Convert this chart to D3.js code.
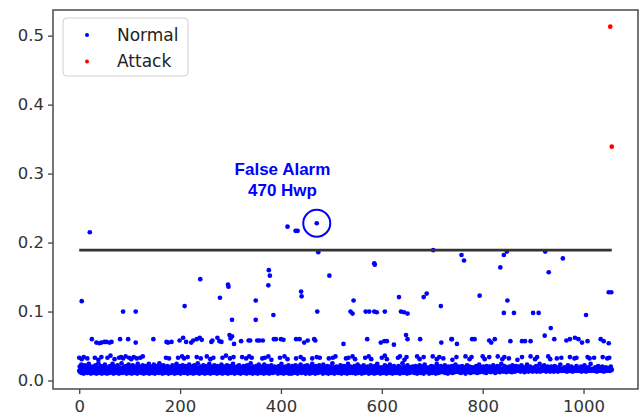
<!DOCTYPE html>
<html><head><meta charset="utf-8">
<script src="https://cdn.jsdelivr.net/npm/d3@7"></script>
<style>
html,body{margin:0;padding:0;background:#fff;}
svg{display:block;}
</style></head>
<body><svg id="chart" width="644" height="419"></svg>
<script>
// ---------------- data (values in thousandths, x = sample index) ----------------
const xTicks = [0, 200, 400, 600, 800, 1000];
const yTicks = [0.0, 0.1, 0.2, 0.3, 0.4, 0.5];
const seriesNames = ["Normal", "Attack"];
const threshold = 189;          // thousandths
const thresholdRange = [0, 1056];
const annotationLines = ["False Alarm", "470 Hwp"];
const falseAlarm = [471, 228];

// dense lower band, one value per sample index 0..1056
const normalBand = [
14,20,12,17,23,11,15,19,13,10,18,22,14,12,16,21,11,17,13,24,15,12,19,10,16,20,13,18,11,14,
17,12,22,15,10,19,13,16,25,11,14,18,12,21,15,10,17,13,20,14,11,23,16,12,18,10,15,19,13,17,
11,21,14,16,12,19,24,13,10,17,15,20,12,14,18,11,22,13,16,10,19,14,12,17,25,15,11,18,13,20,
16,12,14,21,10,18,13,15,23,11,17,12,19,14,10,16,22,13,15,11,20,17,12,14,18,10,24,13,16,19,
12,15,20,11,17,13,22,14,10,18,16,12,21,15,11,19,13,17,24,10,14,18,12,16,20,11,15,13,23,17,
10,18,13,16,21,12,14,19,11,25,15,13,17,20,12,10,16,22,14,18,11,13,19,15,12,21,17,10,14,16,
19,13,11,17,15,22,12,18,14,10,20,16,13,24,11,15,18,12,17,21,14,10,16,19,13,22,12,15,11,18,
15,21,12,14,19,10,17,13,23,16,11,18,14,12,20,15,10,17,22,13,16,11,19,14,12,25,15,18,10,13,
20,14,11,16,18,12,22,15,13,10,17,21,12,14,19,11,16,13,24,15,10,18,12,20,14,17,11,15,22,13,
12,17,15,10,21,13,18,14,11,19,16,12,23,15,10,17,14,20,12,13,18,11,16,22,15,10,19,13,14,17,
21,11,16,13,18,24,12,15,10,19,14,17,12,20,13,11,16,22,15,18,10,14,12,19,17,13,21,11,15,16,
13,18,10,22,15,12,17,14,19,11,25,16,13,15,10,20,12,18,14,16,11,21,13,17,10,15,23,12,19,14,
16,11,20,13,15,18,10,23,14,12,17,19,11,15,21,13,16,10,18,14,12,22,15,17,11,19,13,16,20,12,
14,19,12,17,10,15,21,13,18,11,16,24,12,14,19,10,17,15,13,20,11,18,14,16,12,22,10,15,17,13,
18,10,15,21,13,16,11,19,14,22,12,17,15,10,20,13,16,12,18,23,14,11,17,15,19,12,13,21,16,10,
11,16,22,14,12,18,15,10,20,13,17,11,24,15,14,19,12,16,10,21,13,18,15,11,17,14,22,12,16,19,
15,13,18,10,23,14,16,12,19,11,17,15,21,13,10,18,14,16,20,12,11,17,25,13,15,19,10,14,18,12,
20,12,14,17,11,16,19,13,22,15,10,18,12,16,14,21,11,15,17,13,19,10,16,24,12,14,18,11,20,15,
13,17,11,19,15,12,21,14,10,16,18,13,23,11,15,17,12,20,14,16,10,19,13,15,22,11,17,14,12,18,
16,14,20,12,10,18,15,13,22,11,17,19,14,12,16,10,21,15,13,18,11,24,14,16,12,19,15,10,17,13,
12,19,15,11,17,14,22,13,16,10,20,15,12,18,14,11,23,16,13,17,15,10,19,12,21,14,16,11,18,15,
17,11,14,21,13,16,10,19,15,12,18,25,14,11,16,20,13,15,12,17,10,22,14,18,13,11,16,19,15,12,
14,20,16,12,18,11,15,21,13,17,10,14,19,16,12,22,15,11,18,13,20,14,16,10,17,23,12,15,19,13,
15,12,18,14,10,19,16,13,21,15,11,17,14,20,12,16,18,10,15,24,13,17,11,19,14,16,12,21,15,13,
19,15,12,17,14,22,11,16,13,18,15,10,20,14,17,12,19,15,13,21,11,16,14,18,12,15,23,13,17,14,
13,16,20,12,15,18,14,11,17,21,13,16,15,19,12,14,10,18,16,22,13,15,17,12,20,14,11,16,19,15,
16,14,12,19,15,17,13,21,16,11,18,14,15,23,12,16,19,13,15,17,14,20,12,16,18,13,15,11,21,16,
14,18,15,13,20,16,12,17,15,19,14,22,13,16,15,11,18,14,17,21,15,13,16,19,12,15,17,24,14,16,
15,13,17,21,14,16,15,12,19,16,14,18,15,20,13,16,15,17,12,22,15,14,18,16,13,15,21,14,17,15,
16,20,14,15,17,13,16,22,15,14,18,15,16,12,19,15,17,14,23,16,15,13,18,15,20,14,16,15,17,13,
15,17,19,14,16,15,21,13,15,18,16,14,15,24,13,16,15,19,14,17,15,16,22,14,15,18,13,16,15,20,
14,16,15,18,13,15,20,16,14,15,17,13,16,21,15,14,16,18,15,13,19,16,15,14,23,15,16,17,14,15,
16,15,19,14,15,17,15,13,16,22,15,14,18,15,16,14,20,15,13,16,15,18,14,15,17,15,21,14,16,15,
15,18,14,16,15,20,13,15,16,17,15,14,22,16,15,13,18,15,16,14,19,15,16,15,24,14,15,17,16,15,
16,14,15,19,15,16,13,17,15,21,14,15,16,18,15,14,15,20,16,15,13,17,15,16,19,14,15,16,18,15,
15,17,14,16,20,15,16
];

// second row around 0.033  [index, thousandths]
const normalRow2 = [
[0,33],[5,31],[9,34],[16,32],[31,33],[38,30],[44,34],[56,33],[62,36],[70,31],
[79,33],[83,34],[87,32],[92,35],[99,33],[103,31],[108,34],[114,32],[121,33],[126,35],
[172,33],[178,32],[196,33],[204,35],[208,32],[215,34],[233,34],[241,32],[253,35],[260,31],
[266,33],[284,33],[291,36],[299,32],[306,34],[323,34],[331,32],[337,35],[342,33],[363,32],
[368,33],[375,35],[381,30],[398,33],[407,35],[413,31],[430,32],[439,34],[445,31],[462,32],
[471,34],[477,33],[495,32],[503,33],[508,35],[529,32],[534,33],[542,35],[547,31],[567,33],
[574,35],[579,31],[600,33],[606,36],[610,31],[632,33],[636,35],[645,30],[649,34],[670,35],
[675,31],[683,34],[701,35],[709,31],[714,34],[722,32],[740,30],[748,34],[766,35],[774,31],
[778,34],[800,35],[804,31],[813,34],[830,35],[839,31],[843,34],[852,32],[869,30],[878,34],
[895,35],[904,31],[908,34],[930,35],[934,31],[947,32],[956,33],[973,34],[982,32],[986,33],
[1008,34],[1012,32],[1021,33],[1038,34],[1047,32],[1051,33]
];

// third row around 0.055-0.065  [index, thousandths]
const normalRow3 = [
[25,60],[34,55],[40,54],[44,55],[50,56],[54,56],[60,55],[64,56],[81,60],[97,60],[112,55],[147,60],
[173,56],[176,55],[183,56],[199,58],[206,62],[212,56],[222,55],[226,58],[233,60],[239,62],[243,59],
[262,56],[264,58],[274,62],[278,57],[282,56],[298,66],[300,61],[303,64],[307,53],[321,57],[336,58],
[339,58],[353,58],[357,58],[364,58],[386,60],[390,60],[400,60],[405,59],[430,60],[437,60],[446,55],
[453,58],[466,60],[468,58],[524,53],[571,60],[598,55],[605,57],[610,57],[624,52],[648,66],[651,60],
[676,60],[718,55],[738,60],[739,60],[749,53],[779,60],[784,60],[813,58],[817,55],[824,60],[855,57],
[878,57],[884,57],[895,57],[942,60],[966,58],[973,60],[983,62],[990,60],[997,55],[1008,57],[1034,60],
[1040,57],[1050,54]
];

// isolated higher normal points  [index, thousandths]
const normalHigh = [
[5,115],[21,215],[87,100],[112,100],[209,108],[240,147],[279,120],[295,139],[296,136],[303,88],
[350,116],[350,88],[375,138],[376,160],[378,152],[385,95],[413,223],[429,217],[433,217],[440,129],
[441,122],[471,228],[472,100],[474,186],[496,152],[538,100],[542,97],[544,116],[568,100],[575,100],
[585,170],[586,168],[585,100],[590,99],[606,100],[634,121],[638,100],[644,99],[651,97],[683,121],
[689,126],[702,189],[717,108],[758,182],[763,174],[794,123],[835,164],[842,182],[848,187],[842,98],
[849,116],[862,98],[900,98],[911,98],[923,65],[924,187],[931,157],[935,76],[959,177],[1005,95],
[1050,128],[1055,128]
];

// attack points  [index, thousandths]
const attackPoints = [[1053,513],[1056,339]];

// ---------------- drawing ----------------
const svg = d3.select("#chart");
const plot = {left: 53, top: 10, right: 638, bottom: 389};
const x = d3.scaleLinear().domain([-52, 1108]).range([plot.left, plot.right]);
const y = d3.scaleLinear().domain([-0.0123, 0.5372]).range([plot.bottom, plot.top]);
const col = {Normal: "#0000ff", Attack: "#ff0000"};
const R = 2.35;

svg.append("rect").attr("width", 644).attr("height", 419).attr("fill", "#fff");

const normalPts = [];
normalBand.forEach((v, i) => normalPts.push([i, v / 1000]));
normalRow2.forEach(d => normalPts.push([d[0], d[1] / 1000]));
normalRow3.forEach(d => normalPts.push([d[0], d[1] / 1000]));
normalHigh.forEach(d => normalPts.push([d[0], d[1] / 1000]));
const attackPts = attackPoints.map(d => [d[0], d[1] / 1000]);

const gPts = svg.append("g");
gPts.selectAll("circle.n").data(normalPts).join("circle").attr("class", "n")
  .attr("cx", d => x(d[0])).attr("cy", d => y(d[1])).attr("r", R).attr("fill", col.Normal);
gPts.selectAll("circle.a").data(attackPts).join("circle").attr("class", "a")
  .attr("cx", d => x(d[0])).attr("cy", d => y(d[1])).attr("r", R).attr("fill", col.Attack);

// threshold line
svg.append("line")
  .attr("x1", x(thresholdRange[0])).attr("x2", x(thresholdRange[1]))
  .attr("y1", y(threshold / 1000)).attr("y2", y(threshold / 1000))
  .attr("stroke", "#333").attr("stroke-width", 2.6);

// annotation
svg.append("circle").attr("cx", x(falseAlarm[0])).attr("cy", y(falseAlarm[1] / 1000))
  .attr("r", 13.5).attr("fill", "none").attr("stroke", "#0000ff").attr("stroke-width", 2);
const ann = svg.append("text").attr("text-anchor", "middle")
  .attr("font-family", "Liberation Sans, Arial, sans-serif").attr("font-weight", "bold")
  .attr("font-size", 17).attr("fill", "#0000ff");
annotationLines.forEach((t, i) => {
  ann.append("tspan").attr("x", x(403)).attr("y", y(0.2975) + i * 20.5).text(t);
});

// axes
const tickFont = "DejaVu Sans, sans-serif";
const ax = svg.append("g").attr("transform", `translate(0,${plot.bottom})`)
  .call(d3.axisBottom(x).tickValues(xTicks).tickSize(5).tickPadding(6).tickFormat(d3.format("d")));
const ay = svg.append("g").attr("transform", `translate(${plot.left},0)`)
  .call(d3.axisLeft(y).tickValues(yTicks).tickSize(5).tickPadding(4).tickFormat(d3.format(".1f")));
[ax, ay].forEach(g => {
  g.select(".domain").remove();
  g.selectAll(".tick line").attr("stroke", "#444").attr("stroke-width", 1.3);
  g.selectAll(".tick text").attr("font-family", tickFont).attr("font-size", 16.5).attr("fill", "#333");
});

// spines
svg.append("rect").attr("x", plot.left).attr("y", plot.top)
  .attr("width", plot.right - plot.left).attr("height", plot.bottom - plot.top)
  .attr("fill", "none").attr("stroke", "#4a4a4a").attr("stroke-width", 1.5);

// legend
const lg = svg.append("g");
lg.append("rect").attr("x", 63).attr("y", 18).attr("width", 125).attr("height", 58).attr("rx", 4)
  .attr("fill", "#fff").attr("fill-opacity", 0.85).attr("stroke", "#d0d0d0").attr("stroke-width", 1);
seriesNames.forEach((name, i) => {
  lg.append("circle").attr("cx", 87).attr("cy", 35 + i * 26.5).attr("r", 2).attr("fill", col[name]);
  lg.append("text").attr("x", 117).attr("y", 40.5 + i * 26.5)
    .attr("font-family", tickFont).attr("font-size", 17).attr("fill", "#222").text(name);
});
</script></body></html>
